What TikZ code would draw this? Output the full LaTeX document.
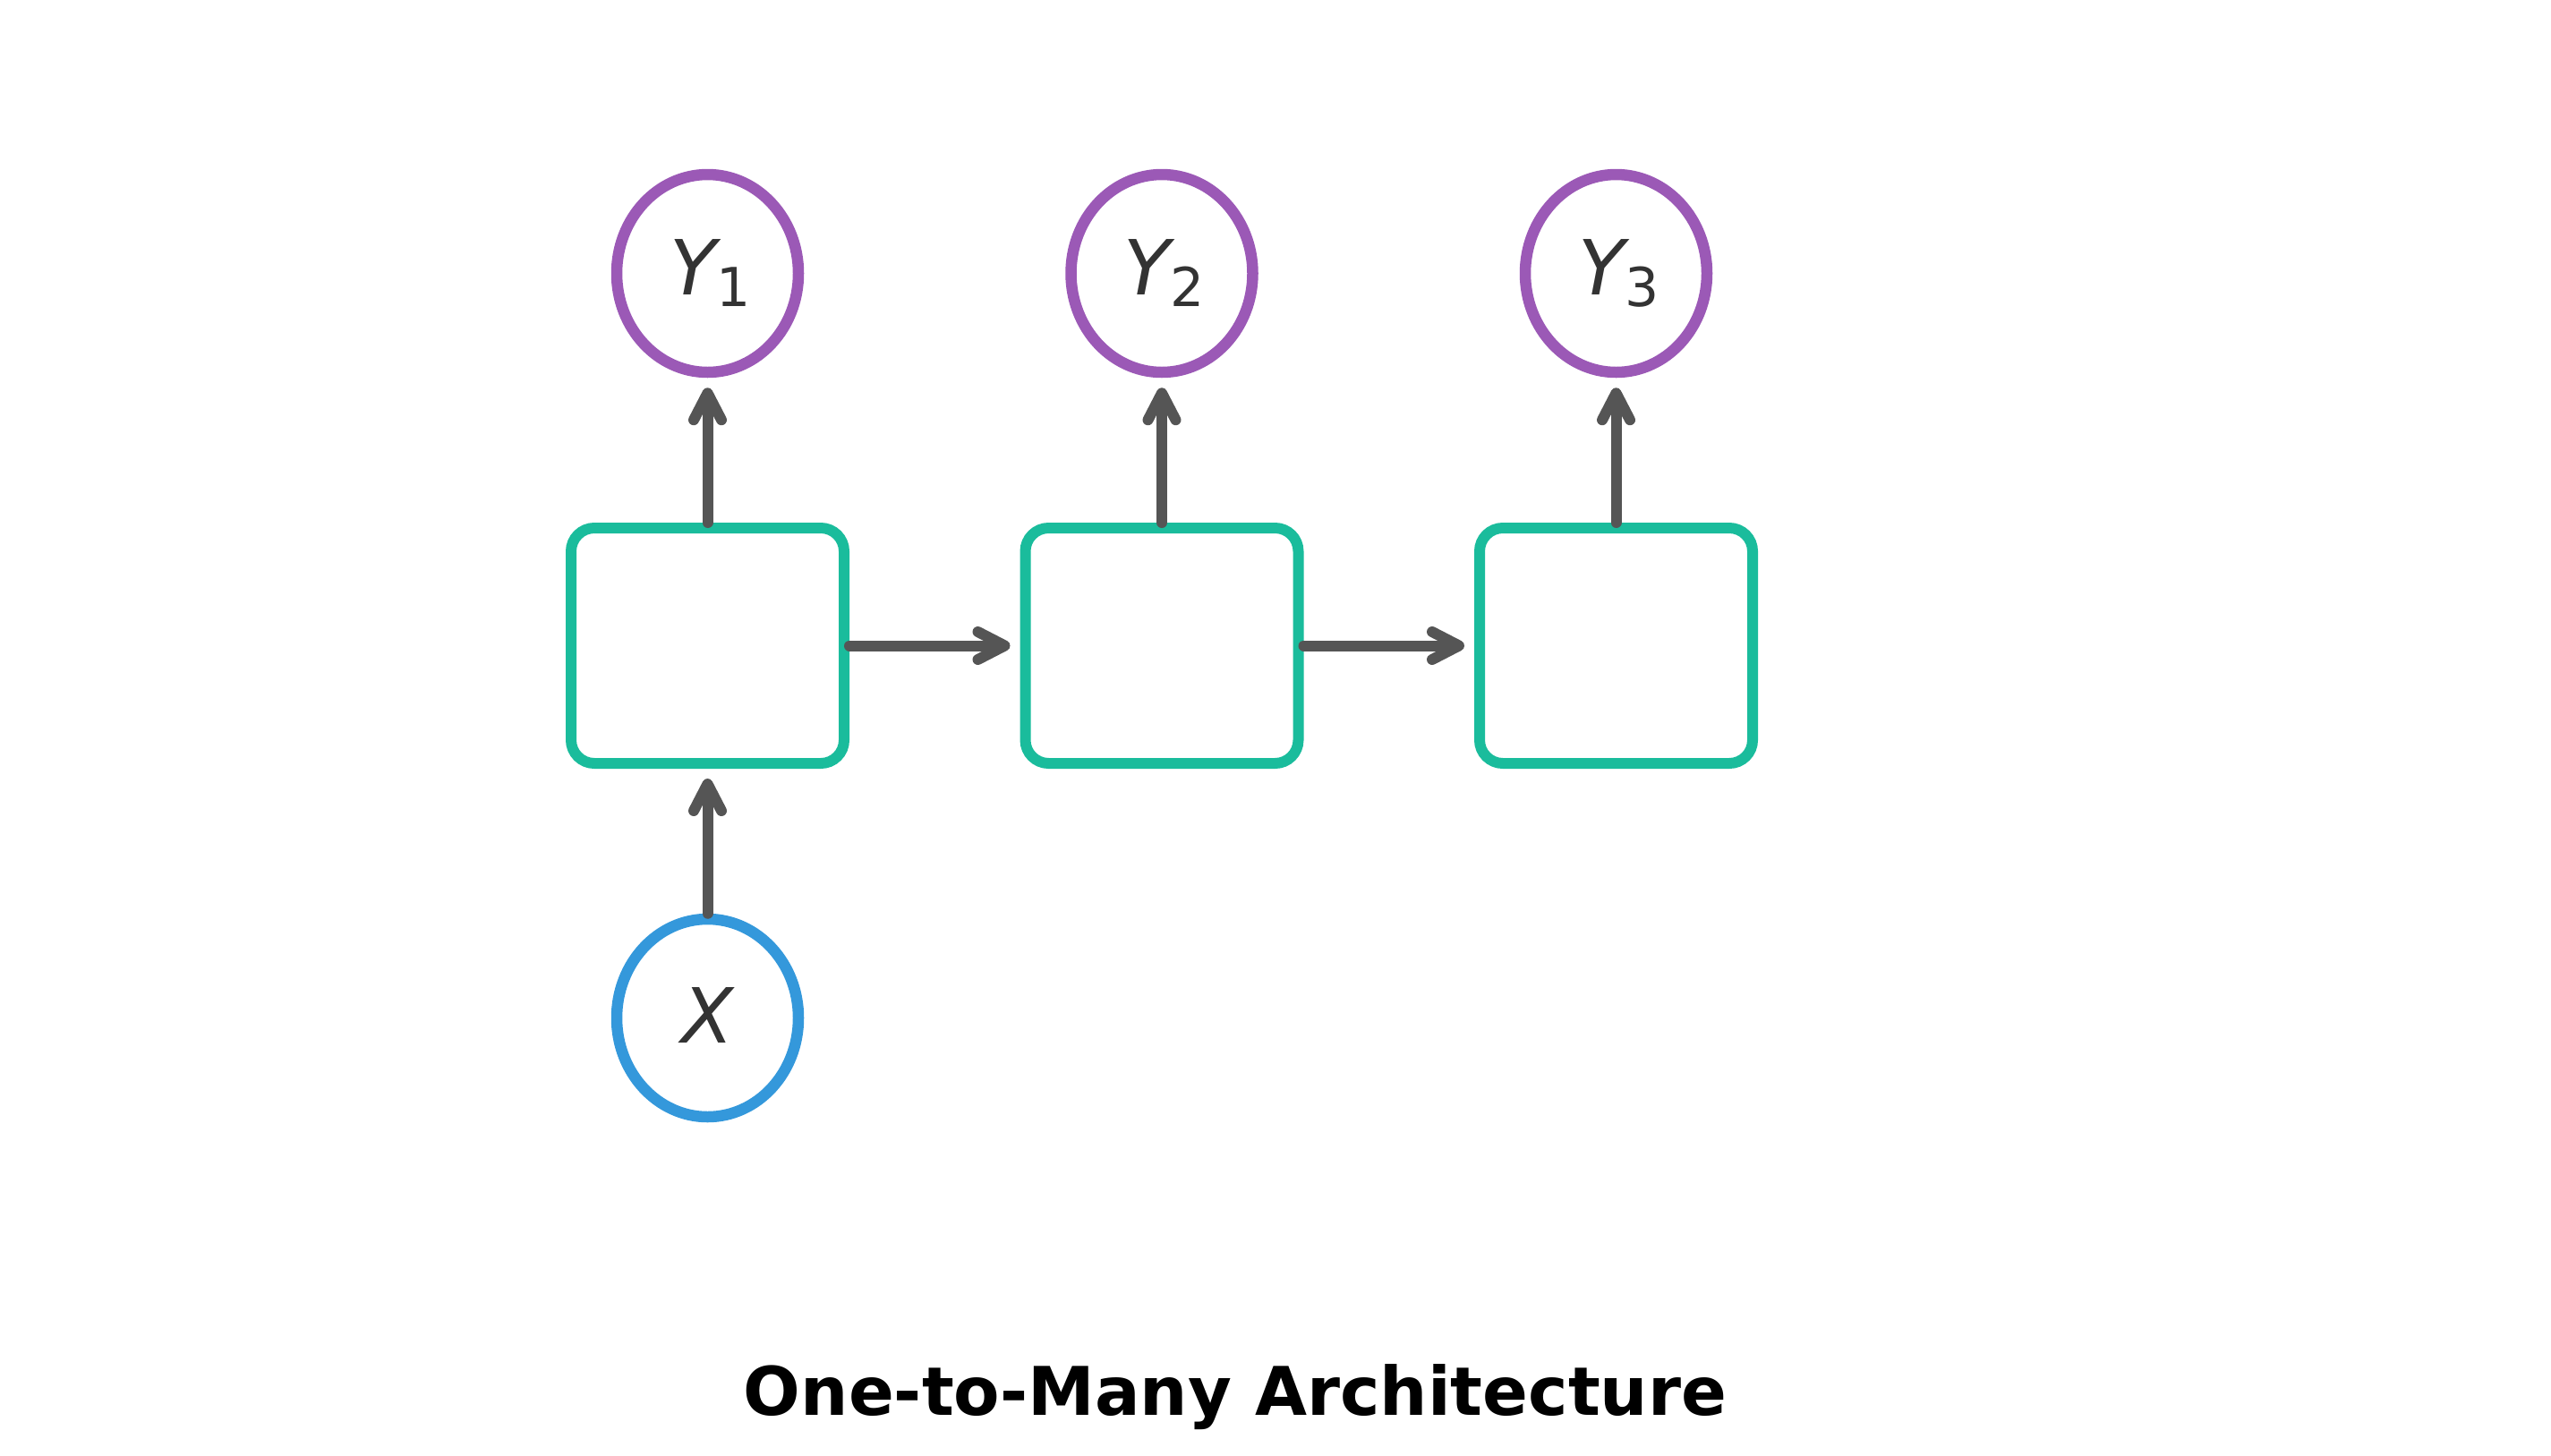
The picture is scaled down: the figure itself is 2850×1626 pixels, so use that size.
\documentclass[tikz,border=0pt]{standalone}
\usepackage{fontspec}
\setmainfont{DejaVu Sans}
\usetikzlibrary{shapes.geometric,arrows.meta}
\definecolor{boxteal}{HTML}{1ABC9C}
\definecolor{outpurple}{HTML}{9B59B6}
\definecolor{inblue}{HTML}{3498DB}
\definecolor{arrowgray}{HTML}{555555}
\definecolor{labelgray}{HTML}{333333}
\newcommand{\ylab}[1]{{\itshape Y}\raisebox{-13pt}{\fontsize{60pt}{60pt}\selectfont #1}}
\tikzset{
  cellbox/.style={draw=boxteal, line width=12pt, rounded corners=26pt,
    minimum width=305pt, minimum height=263pt, fill=white},
  outnode/.style={ellipse, draw=outpurple, line width=12.5pt,
    minimum width=203pt, minimum height=221pt, inner sep=0pt,
    text=labelgray, font=\fontsize{85pt}{85pt}\selectfont},
  innode/.style={ellipse, draw=inblue, line width=12.5pt,
    minimum width=203pt, minimum height=221pt, inner sep=0pt,
    text=labelgray, font=\fontsize{85pt}{85pt}\selectfont},
  flow/.style={draw=arrowgray, line width=12pt, line cap=round,
    -{Straight Barb[length=30pt, width=31pt, line cap=round, line join=round]},
    shorten >=11pt},
  titletext/.style={font=\fontsize{75pt}{75pt}\selectfont\bfseries, text=black, inner sep=0pt}
}
\begin{document}
\begin{tikzpicture}[x=1pt, y=-1pt]
  \useasboundingbox (0,0) rectangle (2850,1626);
  \node[cellbox] (c1) at (790.5,721.5) {};
  \node[cellbox] (c2) at (1298,721.5) {};
  \node[cellbox] (c3) at (1805.5,721.5) {};
  \node[outnode] (y1) at (790.5,305.5) {\hspace{6pt}\ylab{1}};
  \node[outnode] (y2) at (1298,305.5) {\hspace{6pt}\ylab{2}};
  \node[outnode] (y3) at (1805.5,305.5) {\hspace{6pt}\ylab{3}};
  \node[innode] (x) at (790.5,1137.5) {\raisebox{6pt}{\itshape X}};
  \draw[flow] (x.north) -- (c1.south);
  \draw[flow] (c1.north) -- (y1.south);
  \draw[flow] (c2.north) -- (y2.south);
  \draw[flow] (c3.north) -- (y3.south);
  \draw[flow] (c1.east) -- (c2.west);
  \draw[flow] (c2.east) -- (c3.west);
  \node[titletext, anchor=base] (title) at (1380,1581) {One-to-Many Architecture};
\end{tikzpicture}
\end{document}
